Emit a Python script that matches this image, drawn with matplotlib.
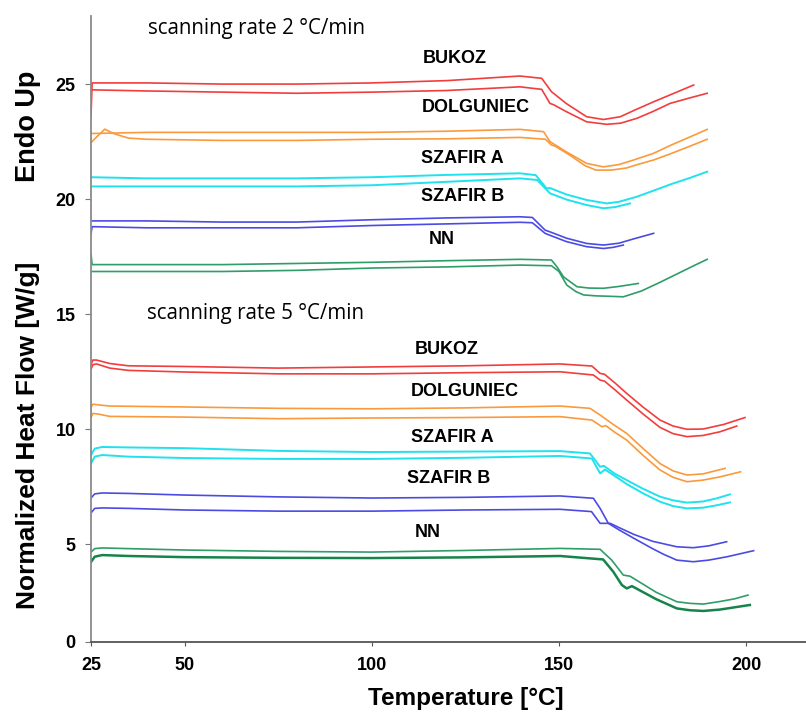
import matplotlib
matplotlib.use("Agg")
import matplotlib.pyplot as plt

plt.rcParams['font.family'] = ['Liberation Sans', 'DejaVu Sans']

# ---- data (temperature in C, heat flow in W/g) ----
# scanning rate 2 C/min
bukoz2_a_x = [25, 25.3, 40, 60, 80, 100, 120, 139.6, 145.4, 148, 152, 157.4, 161.9, 166.4, 170, 175.3, 180, 186]
bukoz2_a_y = [23.6, 25.05, 25.05, 25.0, 25.0, 25.05, 25.15, 25.35, 25.25, 24.67, 24.15, 23.58, 23.46, 23.58, 23.85, 24.23, 24.55, 24.96]
bukoz2_b_x = [25, 40, 60, 80, 100, 120, 139.6, 145.4, 147.6, 148.6, 152, 157.4, 162.8, 166.5, 170.8, 175, 179.7, 185, 189.6]
bukoz2_b_y = [24.75, 24.7, 24.65, 24.6, 24.65, 24.72, 24.88, 24.77, 24.16, 24.1, 23.8, 23.36, 23.25, 23.3, 23.51, 23.8, 24.16, 24.4, 24.6]

dolg2_a_x = [25, 40, 60, 80, 100, 120, 139.6, 145.9, 147.6, 152, 157.4, 161.9, 166, 170, 175.3, 180, 185, 189.6]
dolg2_a_y = [22.85, 22.9, 22.9, 22.9, 22.9, 22.95, 23.03, 22.93, 22.5, 22.05, 21.55, 21.4, 21.5, 21.7, 21.99, 22.35, 22.7, 23.03]
dolg2_b_x = [25, 26.5, 28.7, 31, 35, 40, 60, 80, 100, 120, 139.6, 146.4, 148, 149, 153, 157, 159.9, 164, 168, 171, 175.3, 180, 185, 189.6]
dolg2_b_y = [22.45, 22.7, 23.04, 22.85, 22.65, 22.6, 22.55, 22.55, 22.6, 22.62, 22.68, 22.6, 22.35, 22.3, 21.9, 21.45, 21.26, 21.26, 21.35, 21.5, 21.7, 21.98, 22.3, 22.6]

szafa2_a_x = [25, 40, 60, 80, 100, 120, 139.6, 143.8, 146.7, 147.6, 152, 157.4, 162.8, 166, 170.8, 175, 180, 185, 189.6]
szafa2_a_y = [20.95, 20.9, 20.9, 20.9, 20.95, 21.05, 21.12, 21.04, 20.46, 20.48, 20.2, 19.96, 19.81, 19.88, 20.1, 20.35, 20.65, 20.92, 21.19]
szafa2_b_x = [25, 40, 60, 80, 100, 120, 139.6, 144.2, 147.6, 152, 157.4, 161.9, 165, 169]
szafa2_b_y = [20.55, 20.55, 20.55, 20.55, 20.6, 20.75, 20.9, 20.83, 20.25, 19.98, 19.74, 19.6, 19.65, 19.81]

szafb2_a_x = [25, 40, 60, 80, 100, 120, 139.6, 142.9, 146.3, 148, 152, 157.4, 161.9, 166, 170, 175.3]
szafb2_a_y = [19.05, 19.05, 19.0, 19.0, 19.1, 19.18, 19.23, 19.2, 18.65, 18.55, 18.3, 18.07, 18.0, 18.08, 18.27, 18.51]
szafb2_b_x = [25, 25.3, 40, 60, 80, 100, 120, 139.6, 142.9, 146.3, 148, 152, 157.4, 161.9, 164.5, 167.2]
szafb2_b_y = [18.5, 18.8, 18.75, 18.75, 18.75, 18.85, 18.92, 18.99, 18.97, 18.51, 18.4, 18.15, 17.93, 17.85, 17.9, 18.0]

nn2_a_x = [25, 25.3, 40, 60, 80, 100, 120, 139.6, 148, 149.5, 151.2, 154.8, 158, 161.9, 166, 171.2]
nn2_a_y = [17.6, 17.15, 17.15, 17.15, 17.2, 17.25, 17.32, 17.38, 17.35, 17.05, 16.62, 16.19, 16.13, 16.12, 16.2, 16.33]
nn2_b_x = [25, 40, 60, 80, 100, 120, 139.6, 148, 150, 152.1, 154.5, 156.6, 160, 164, 167.2, 172, 177, 182, 186, 189.6]
nn2_b_y = [16.85, 16.85, 16.85, 16.9, 17.0, 17.05, 17.13, 17.1, 16.85, 16.26, 15.98, 15.83, 15.79, 15.77, 15.75, 16.0, 16.38, 16.78, 17.1, 17.38]

# scanning rate 5 C/min
bukoz5_a_x = [25, 25.5, 26.5, 30, 35, 50, 75, 100, 125, 150.3, 158.8, 161, 162.2, 165, 168.1, 172.5, 177, 180.5, 184.2, 188.5, 194, 199.7]
bukoz5_a_y = [12.8, 13.0, 13.0, 12.85, 12.75, 12.72, 12.65, 12.7, 12.75, 12.83, 12.74, 12.42, 12.38, 12.0, 11.55, 10.95, 10.39, 10.13, 9.99, 10.0, 10.2, 10.5]
bukoz5_b_x = [25, 25.5, 26.5, 30, 35, 50, 75, 100, 125, 150.3, 159.2, 161, 162.2, 165, 168.1, 172.5, 177, 180.5, 184.2, 188.5, 193, 197.5]
bukoz5_b_y = [12.6, 12.8, 12.83, 12.65, 12.55, 12.48, 12.4, 12.4, 12.45, 12.49, 12.35, 12.13, 12.08, 11.7, 11.26, 10.65, 10.07, 9.8, 9.67, 9.72, 9.88, 10.13]

dolg5_a_x = [25, 25.5, 27, 30, 50, 75, 100, 125, 150.3, 158.3, 161, 164.5, 168.1, 172.5, 177, 180.5, 184.2, 188.5, 194.4]
dolg5_a_y = [10.95, 11.08, 11.05, 11.0, 10.96, 10.9, 10.88, 10.92, 11.0, 10.9, 10.61, 10.2, 9.81, 9.15, 8.5, 8.18, 8.0, 8.05, 8.29]
dolg5_b_x = [25, 25.5, 27, 30, 50, 75, 100, 125, 150.3, 158.8, 161.5, 162.5, 165, 168.1, 172.5, 177, 180.5, 184.2, 188.5, 193, 198.5]
dolg5_b_y = [10.5, 10.68, 10.65, 10.55, 10.52, 10.45, 10.48, 10.5, 10.54, 10.39, 10.1, 10.15, 9.85, 9.52, 8.85, 8.22, 7.9, 7.71, 7.78, 7.92, 8.14]

szafa5_a_x = [25, 26, 28, 35, 50, 75, 100, 125, 150.3, 158.3, 161, 162, 165, 168.1, 172.5, 177, 180.5, 184.2, 188.5, 192, 195.7]
szafa5_a_y = [8.87, 9.15, 9.22, 9.2, 9.17, 9.05, 9.0, 9.02, 9.04, 8.94, 8.36, 8.4, 8.05, 7.78, 7.4, 7.06, 6.9, 6.8, 6.85, 6.98, 7.16]
szafa5_b_x = [25, 26, 28, 35, 50, 75, 100, 125, 150.3, 158.8, 161, 162.3, 165, 168.1, 172.5, 177, 180.5, 184.2, 188.5, 192, 195.7]
szafa5_b_y = [8.5, 8.8, 8.87, 8.8, 8.74, 8.7, 8.7, 8.75, 8.83, 8.72, 8.07, 8.24, 7.95, 7.61, 7.2, 6.84, 6.65, 6.55, 6.58, 6.68, 6.81]

szafb5_a_x = [25, 26, 28, 35, 50, 75, 100, 125, 150.3, 159.2, 161, 163.2, 166, 170, 175, 178, 181.5, 185.9, 190, 195, 202]
szafb5_a_y = [7.0, 7.18, 7.22, 7.2, 7.13, 7.05, 7.0, 7.03, 7.09, 6.99, 6.55, 5.9, 5.62, 5.25, 4.8, 4.55, 4.3, 4.23, 4.3, 4.45, 4.71]
szafb5_b_x = [25, 26, 28, 35, 50, 75, 100, 125, 150.3, 158.7, 161, 163.7, 166, 170, 175, 181.5, 185.9, 190, 194.8]
szafb5_b_y = [6.35, 6.55, 6.57, 6.55, 6.48, 6.43, 6.43, 6.48, 6.51, 6.41, 5.9, 5.9, 5.72, 5.42, 5.12, 4.88, 4.84, 4.92, 5.1]

nn5_a_x = [25, 26, 28, 35, 50, 75, 100, 125, 150.3, 161, 164.1, 167.2, 169, 172, 176, 181.5, 185, 188.6, 193, 197, 200.5]
nn5_a_y = [4.65, 4.8, 4.83, 4.8, 4.74, 4.68, 4.65, 4.72, 4.81, 4.77, 4.3, 3.65, 3.6, 3.3, 2.9, 2.49, 2.42, 2.39, 2.5, 2.62, 2.78]
nn5_b_x = [25, 26, 28, 35, 50, 75, 100, 125, 150.3, 161.8, 164.5, 166.8, 168.1, 169.5, 172, 176, 181.5, 185, 188.6, 193, 197, 201]
nn5_b_y = [4.22, 4.45, 4.52, 4.48, 4.43, 4.4, 4.39, 4.42, 4.48, 4.33, 3.8, 3.22, 3.07, 3.17, 2.95, 2.6, 2.2, 2.12, 2.09, 2.15, 2.25, 2.35]

samples = ['BUKOZ', 'DOLGUNIEC', 'SZAFIR A', 'SZAFIR B', 'NN']
# label positions (x, y) for both scanning rates
label_pos_2 = [(122.2, 26.13), (127.9, 23.96), (124.1, 21.78), (124.4, 20.09), (118.8, 18.26)]
label_pos_5 = [(120.1, 13.48), (124.9, 11.65), (121.4, 9.65), (120.4, 7.83), (115.0, 5.48)]

RED = '#f23d3d'
ORANGE = '#fa9a3c'
CYAN = '#1fe2ee'
BLUE = '#4b4be3'
GREEN = '#2e9d68'
DGREEN = '#16844a'

curves = [
    (bukoz2_a_x, bukoz2_a_y, RED, 1.2), (bukoz2_b_x, bukoz2_b_y, RED, 1.2),
    (dolg2_a_x, dolg2_a_y, ORANGE, 1.2), (dolg2_b_x, dolg2_b_y, ORANGE, 1.2),
    (szafa2_a_x, szafa2_a_y, CYAN, 1.4), (szafa2_b_x, szafa2_b_y, CYAN, 1.4),
    (szafb2_a_x, szafb2_a_y, BLUE, 1.2), (szafb2_b_x, szafb2_b_y, BLUE, 1.2),
    (nn2_a_x, nn2_a_y, GREEN, 1.2), (nn2_b_x, nn2_b_y, GREEN, 1.2),
    (bukoz5_a_x, bukoz5_a_y, RED, 1.2), (bukoz5_b_x, bukoz5_b_y, RED, 1.2),
    (dolg5_a_x, dolg5_a_y, ORANGE, 1.2), (dolg5_b_x, dolg5_b_y, ORANGE, 1.2),
    (szafa5_a_x, szafa5_a_y, CYAN, 1.4), (szafa5_b_x, szafa5_b_y, CYAN, 1.4),
    (szafb5_a_x, szafb5_a_y, BLUE, 1.2), (szafb5_b_x, szafb5_b_y, BLUE, 1.2),
    (nn5_a_x, nn5_a_y, GREEN, 1.2), (nn5_b_x, nn5_b_y, DGREEN, 1.8),
]

fig = plt.figure(figsize=(8.06, 7.13), dpi=100)
ax = fig.add_axes([91/806, 1 - 642/713, (806 - 91)/806, (642 - 16)/713])

for xs, ys, c, lw in curves:
    ax.plot(xs, ys, color=c, lw=lw, solid_joinstyle='round')

for name, (x, y) in zip(samples, label_pos_2):
    ax.text(x, y, name, ha='center', va='center', fontsize=13, fontweight='bold')
for name, (x, y) in zip(samples, label_pos_5):
    ax.text(x, y, name, ha='center', va='center', fontsize=13, fontweight='bold')

ax.text(40.2, 27.43, 'scanning rate 2 °C/min', ha='left', va='center', fontsize=14.8, family=['Open Sans', 'DejaVu Sans'])
ax.text(40.0, 15.04, 'scanning rate 5 °C/min', ha='left', va='center', fontsize=14.8, family=['Open Sans', 'DejaVu Sans'])

ymin, ymax = 0.74, 27.96
ax.set_xlim(25, 216)
ax.set_ylim(ymin, ymax)
ax.set_xticks([25, 50, 100, 150, 200])
ax.set_xticklabels(['25', '50', '100', '150', '200'], fontsize=13, fontweight='bold')
# the lowest tick sits on the axis floor, labelled 0 as in the original figure
ax.set_yticks([ymin, 5, 10, 15, 20, 25])
ax.set_yticklabels(['0', '5', '10', '15', '20', '25'], fontsize=13, fontweight='bold')
ax.tick_params(axis='x', direction='out', length=3, pad=8, color='#555555')
ax.tick_params(axis='y', direction='out', length=4, pad=7, color='#777777')

for s in ['top', 'right']:
    ax.spines[s].set_visible(False)
ax.spines['left'].set_color('#8a8a8a')
ax.spines['left'].set_linewidth(1.3)
ax.spines['bottom'].set_color('#555555')
ax.spines['bottom'].set_linewidth(1.3)

fig.text(466/806, 1 - 699/713, 'Temperature [°C]', ha='center', va='center', fontsize=17.5, fontweight='bold')
fig.text(28/806, 1 - 126/713, 'Endo Up', ha='center', va='center', rotation=90, fontsize=19.5, fontweight='bold')
fig.text(28/806, 1 - 435/713, 'Normalized Heat Flow [W/g]', ha='center', va='center', rotation=90, fontsize=19, fontweight='bold')

fig.savefig('out.png', dpi=100)
